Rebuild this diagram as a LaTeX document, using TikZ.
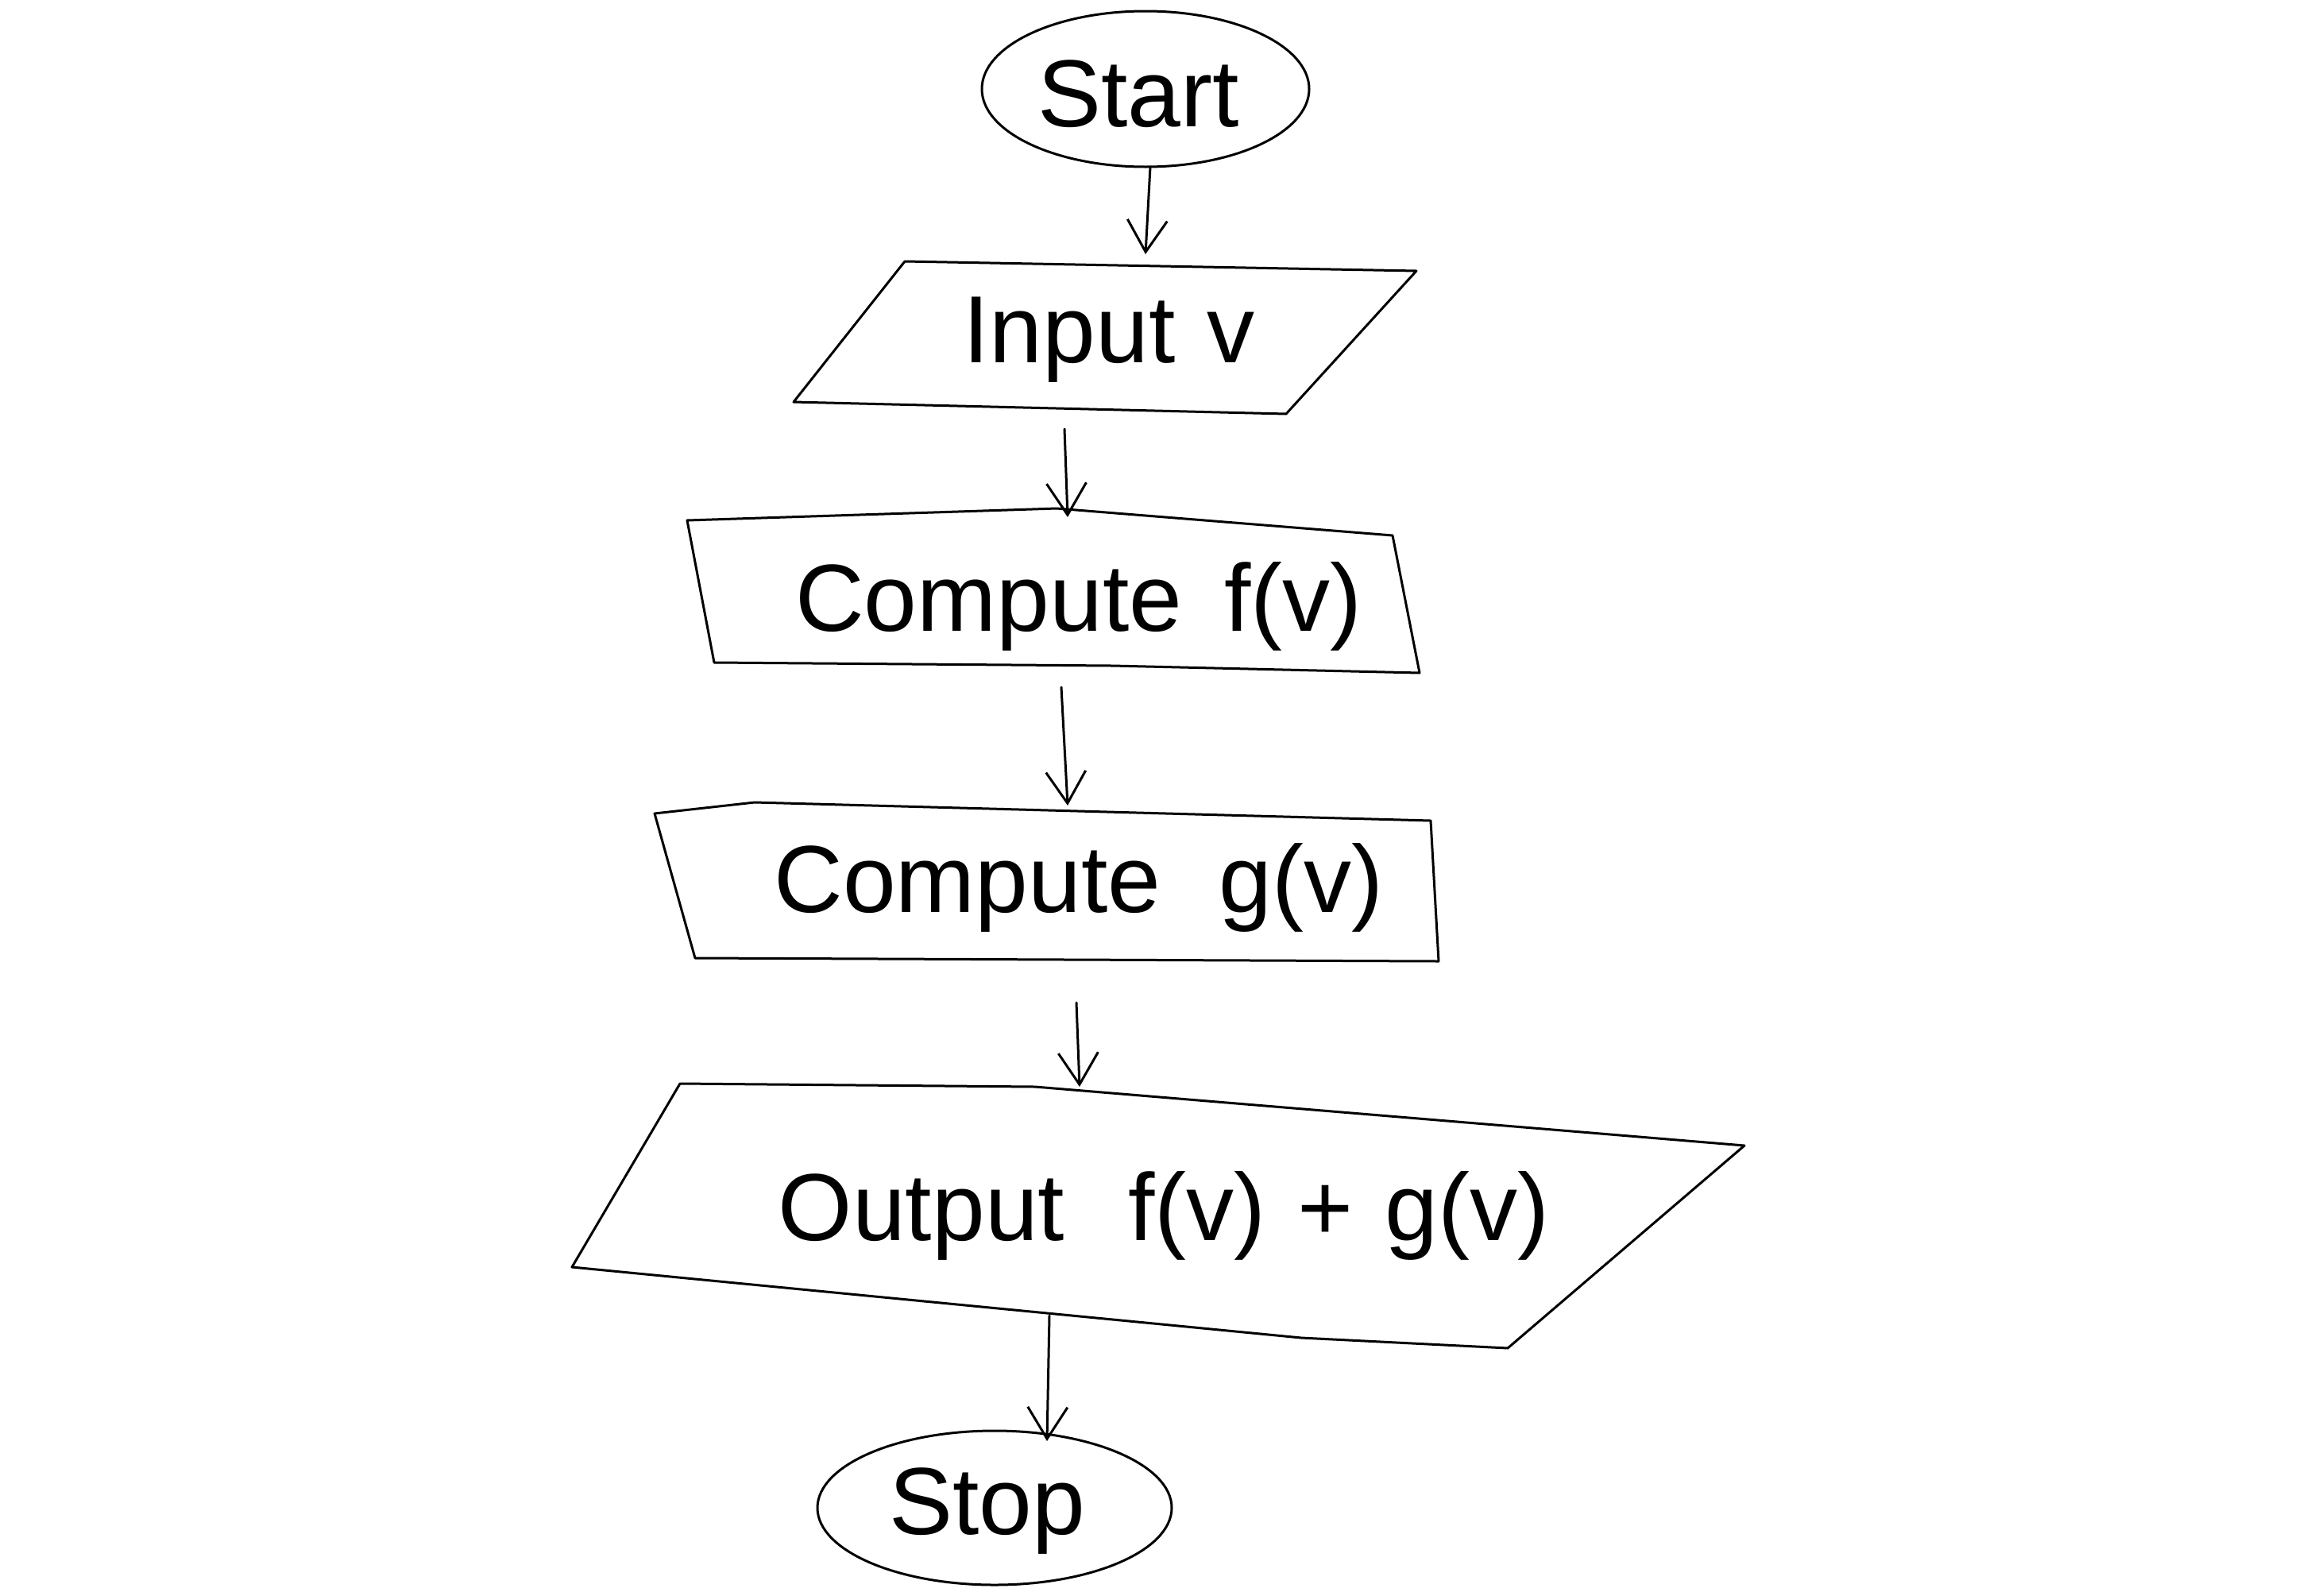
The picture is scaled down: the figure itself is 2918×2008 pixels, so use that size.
\documentclass[tikz,border=0pt]{standalone}
\usepackage{fontspec}
\setmainfont{Liberation Sans}
\usetikzlibrary{arrows.meta,shapes.geometric}
\begin{document}
\begin{tikzpicture}[x=1pt,y=-1pt,
  line/.style={line width=3pt,line join=round,line cap=round},
  lbl/.style={font=\fontsize{120}{120}\selectfont},
  flow/.style={line,-{Straight Barb[length=40pt,width=50pt,line width=3pt]}}]
\useasboundingbox (0,0) rectangle (2918,2008);
% Start
\node[ellipse,draw,line,minimum width=412pt,minimum height=196pt,inner sep=0pt] (start) at (1442,112) {};
\node[lbl] (tstart) at (1433,118) {Start};
% Input v
\draw[line] (1139,329) -- (1783,341) -- (1619,521) -- (999,506) -- cycle;
\node[lbl] (tinput) at (1396,428) {Input\hspace{40pt}v};
% Compute f(v)
\draw[line] (865,655) -- (1330,640) -- (1753,674) -- (1787,847) -- (1400,838) -- (899,834) -- cycle;
\node[lbl] (tf) at (1358,763) {Compute\hspace{20pt} f(v)};
% Compute g(v)
\draw[line] (824,1024) -- (950,1010) -- (1801,1033) -- (1811,1210) -- (875,1206) -- cycle;
\node[lbl] (tg) at (1358,1117) {Compute\hspace{40pt} g(v)};
% Output
\draw[line] (856,1364) -- (1303,1368) -- (2196,1442) -- (1898,1697) -- (1638,1684) -- (720,1595) -- cycle;
\node[lbl] (tout) at (1465,1530) {Output\hspace{80pt}f(v)\hspace{40pt}+\hspace{40pt}g(v)};
% Stop
\node[ellipse,draw,line,minimum width=446pt,minimum height=194pt,inner sep=0pt] (stop) at (1252,1898) {};
\node[lbl] (tstop) at (1243,1902) {Stop};
% arrow endpoints
\coordinate (a1s) at (1448,210); \coordinate (a1e) at (1442,320);
\coordinate (a2s) at (1340,540); \coordinate (a2e) at (1344,651);
\coordinate (a3s) at (1336,865); \coordinate (a3e) at (1344,1014);
\coordinate (a4s) at (1355,1262); \coordinate (a4e) at (1359,1368);
\coordinate (a5s) at (1321,1656); \coordinate (a5e) at (1318,1814);
\draw[flow] (a1s) -- (a1e);
\draw[flow] (a2s) -- (a2e);
\draw[flow] (a3s) -- (a3e);
\draw[flow] (a4s) -- (a4e);
\draw[flow] (a5s) -- (a5e);
\end{tikzpicture}
\end{document}
